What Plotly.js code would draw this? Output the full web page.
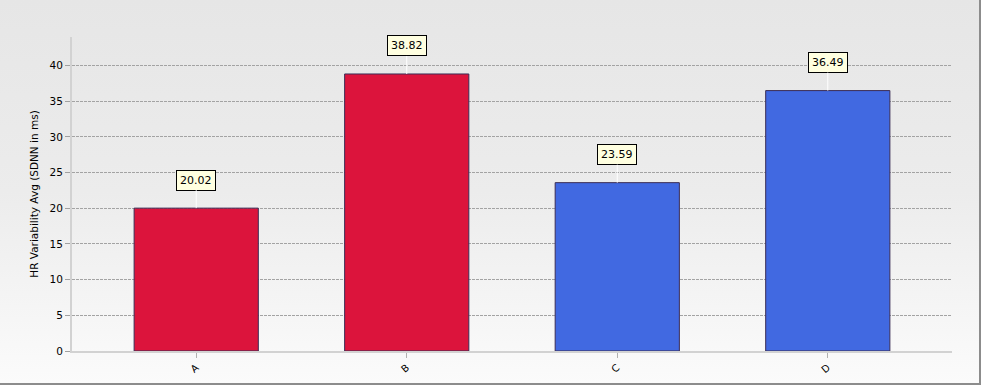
<!DOCTYPE html>
<html><head><meta charset="utf-8">
<script src="https://cdn.plot.ly/plotly-3.0.1.min.js"></script>
<style>
html,body{margin:0;padding:0;}
#wrap{width:981px;height:385px;box-sizing:border-box;border-right:2px solid #8c8c8c;border-bottom:2px solid #8c8c8c;
background:linear-gradient(to bottom,#e6e6e6 0%,#ececec 50%,#fbfbfb 100%);}
#chart{width:979px;height:383px;}
</style></head>
<body><div id="wrap"><div id="chart"></div></div>
<script>
const categories = ["A","B","C","D"];
const values = [20.02, 38.82, 23.59, 36.49];
const barColors = ["#DC143C","#DC143C","#4169E1","#4169E1"];
const yTicks = [0,5,10,15,20,25,30,35,40];
const yTitle = "HR Variability Avg (SDNN in ms)";

const trace = {
  type: "bar", x: categories, y: values, width: 0.59,
  marker: {color: barColors, line: {color: "#3b2d55", width: 1}},
  hoverinfo: "none"
};
const annotations = categories.map((c,i)=>({
  x: c, y: values[i], xref: "x", yref: "y",
  text: values[i].toFixed(2), showarrow: true, arrowhead: 0, arrowwidth: 1,
  arrowcolor: "#ffffff", ax: 0, ay: -28, standoff: 0,
  bgcolor: "#ffffe0", bordercolor: "#000000", borderwidth: 1, borderpad: 3,
  font: {family: "DejaVu Sans, Verdana, sans-serif", size: 11, color: "#000"}
}));
const layout = {
  width: 979, height: 383,
  margin: {l: 72, r: 27, t: 37, b: 32},
  paper_bgcolor: "rgba(0,0,0,0)", plot_bgcolor: "rgba(0,0,0,0)",
  showlegend: false, bargap: 0.41,
  font: {family: "DejaVu Sans, Verdana, sans-serif", size: 10, color: "#000"},
  xaxis: {
    type: "category", range: [-0.59, 3.59], tickangle: -40,
    showline: true, linecolor: "#d2d2d2", linewidth: 2,
    ticks: "outside", ticklen: 5, tickcolor: "#b0b0b0", showgrid: false,
    tickfont: {size: 10}
  },
  yaxis: {
    range: [0, 44], tickvals: yTicks, ticks: "outside", ticklen: 5, tickcolor: "#a0a0a0",
    showline: true, linecolor: "#d2d2d2", linewidth: 2,
    showgrid: true, gridcolor: "#a3a3a3", griddash: "3px,1px", gridwidth: 1,
    zeroline: false,
    title: {text: yTitle, font: {size: 10.5}, standoff: 9},
    tickfont: {size: 10.5}
  },
  annotations: annotations
};
Plotly.newPlot("chart", [trace], layout, {displayModeBar: false, staticPlot: true});
</script></body></html>
